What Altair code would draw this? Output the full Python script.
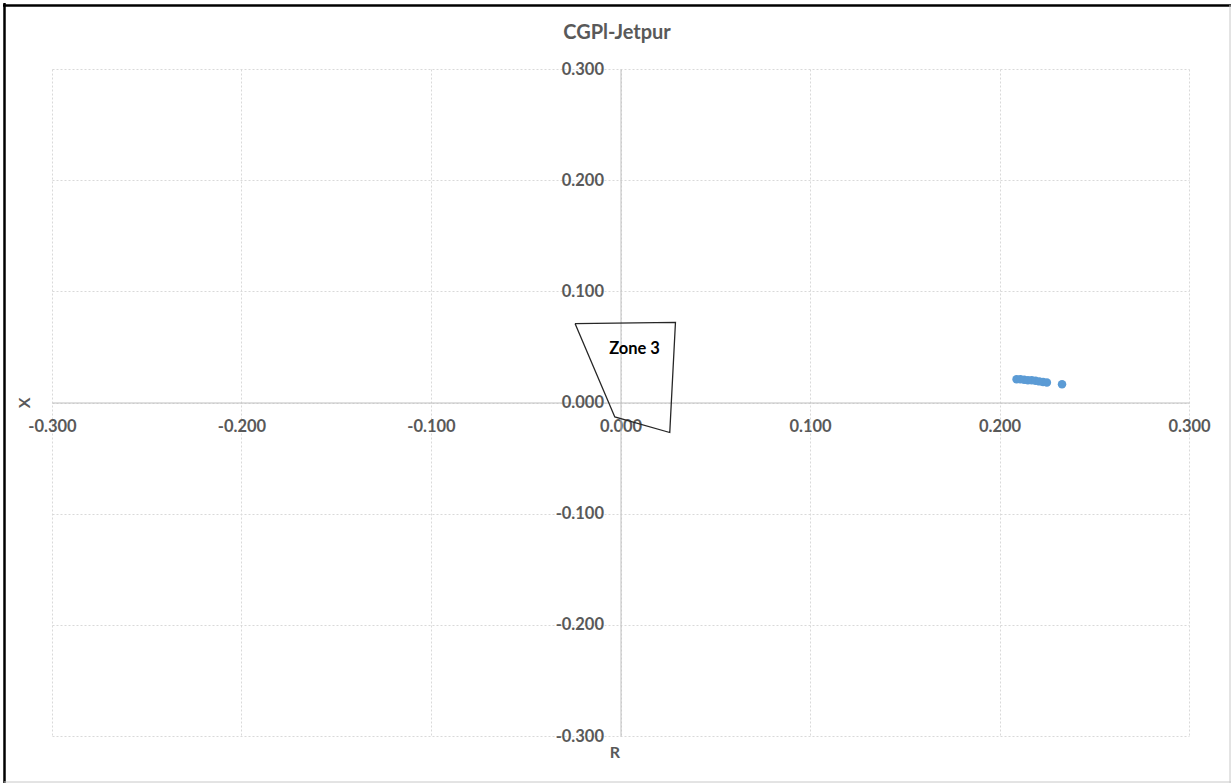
import altair as alt
import pandas as pd

# Impedance trajectory samples (R, X)
r_values = [0.209, 0.211, 0.213, 0.215, 0.217, 0.219, 0.221, 0.223, 0.225, 0.233]
x_values = [0.021, 0.021, 0.0205, 0.020, 0.020, 0.0195, 0.019, 0.0185, 0.018, 0.0165]

# Zone 3 characteristic outline (closed polygon)
zone_r = [-0.024, 0.029, 0.026, -0.003, -0.024]
zone_x = [0.071, 0.072, -0.027, -0.013, 0.071]

tick_values = [-0.3, -0.2, -0.1, 0.0, 0.1, 0.2, 0.3]

W, H = 1137, 667
LEFT, TOP = 52, 69
FONT = "Lato"
GREY = "#595959"

points = pd.DataFrame({"R": r_values, "X": x_values})
zone = pd.DataFrame({"R": zone_r, "X": zone_x, "order": list(range(len(zone_r)))})
zone_label = pd.DataFrame({"R": [-0.006], "X": [0.048], "label": ["Zone 3"]})

label_expr = "replace(format(datum.value, '.3f'), '\u2212', '-')"

common_axis = dict(
    values=tick_values,
    ticks=False,
    tickSize=0,
    domainColor="#bfbfbf",
    domainWidth=1,
    grid=True,
    gridColor="#d9d9d9",
    gridDash=[2, 2],
    gridWidth=1,
    labelFlush=False,
    labelOverlap=False,
    labelExpr=label_expr,
    labelFont=FONT,
    labelFontSize=16.5,
    labelFontWeight="bold",
    labelColor=GREY,
    title=None,
)

x_enc = alt.X(
    "R:Q",
    scale=alt.Scale(domain=[-0.3, 0.3], nice=False, zero=False),
    axis=alt.Axis(offset=-H / 2, labelPadding=16, **common_axis),
)
y_enc = alt.Y(
    "X:Q",
    scale=alt.Scale(domain=[-0.3, 0.3], nice=False, zero=False),
    axis=alt.Axis(offset=-W / 2, labelPadding=17, **common_axis),
)

scatter = alt.Chart(points).mark_circle(size=72, color="#5b9bd5", opacity=1).encode(
    x=x_enc, y=y_enc
)

zone_line = alt.Chart(zone).mark_line(color="#262626", strokeWidth=1.3).encode(
    x="R:Q", y="X:Q", order="order:O"
)

zone_text = alt.Chart(zone_label).mark_text(
    align="left", baseline="middle", font=FONT, fontSize=16.5, fontWeight="bold", color="#000000"
).encode(x="R:Q", y="X:Q", text="label:N")

# Chart title and axis titles placed beside the centred axes
title_text = alt.Chart(pd.DataFrame({"t": ["CGPl-Jetpur"]})).mark_text(
    font=FONT, fontSize=20, fontWeight="bold", color=GREY, baseline="middle", align="center"
).encode(x=alt.value(617 - LEFT), y=alt.value(33 - TOP), text="t:N")

x_title = alt.Chart(pd.DataFrame({"t": ["R"]})).mark_text(
    font=FONT, fontSize=16, fontWeight="bold", color=GREY, baseline="middle"
).encode(x=alt.value(615 - LEFT), y=alt.value(753 - TOP), text="t:N")

y_title = alt.Chart(pd.DataFrame({"t": ["X"]})).mark_text(
    font=FONT, fontSize=16, fontWeight="bold", color=GREY, baseline="middle", angle=270
).encode(x=alt.value(25 - LEFT), y=alt.value(403 - TOP), text="t:N")

# Frame around the whole figure
frame_left = alt.Chart(pd.DataFrame({"a": [0]})).mark_rule(color="#000000", strokeWidth=2.5).encode(
    x=alt.value(4.5 - LEFT), y=alt.value(3 - TOP), y2=alt.value(783 - TOP)
)
frame_top = alt.Chart(pd.DataFrame({"a": [0]})).mark_rule(color="#000000", strokeWidth=2.5).encode(
    y=alt.value(5.5 - TOP), x=alt.value(3 - LEFT), x2=alt.value(1231 - LEFT)
)
frame_right = alt.Chart(pd.DataFrame({"a": [0]})).mark_rule(color="#c8c8c8", strokeWidth=1).encode(
    x=alt.value(1230 - LEFT), y=alt.value(5 - TOP), y2=alt.value(783 - TOP)
)
frame_bottom = alt.Chart(pd.DataFrame({"a": [0]})).mark_rule(color="#c8c8c8", strokeWidth=1).encode(
    y=alt.value(782 - TOP), x=alt.value(4 - LEFT), x2=alt.value(1231 - LEFT)
)

chart = (
    alt.layer(
        scatter, zone_line, zone_text, title_text, x_title, y_title,
        frame_left, frame_top, frame_right, frame_bottom,
    )
    .properties(
        width=W,
        height=H,
        autosize=alt.AutoSizeParams(type="none"),
        padding={"left": LEFT, "top": TOP, "right": 1231 - LEFT - W, "bottom": 783 - TOP - H},
        background="#ffffff",
    )
    .configure_view(stroke=None)
)

chart.save("out.html", embed_options={"renderer": "svg", "actions": False})
